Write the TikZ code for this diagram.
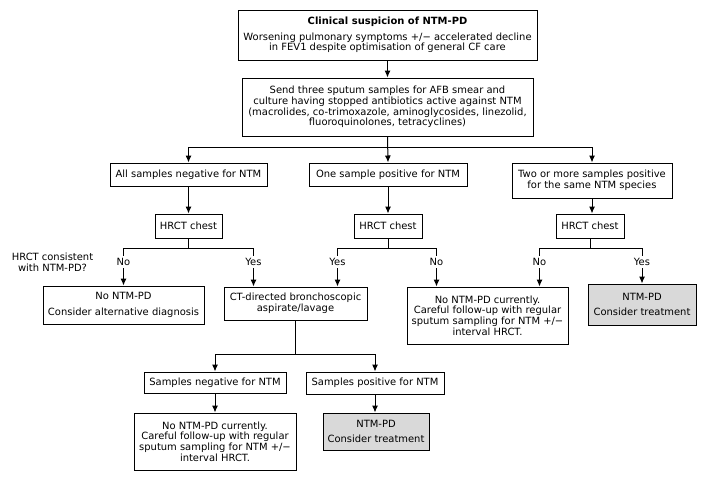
\documentclass[tikz,border=0pt]{standalone}
\usepackage{fontspec}
\setmainfont{DejaVu Sans}
\usetikzlibrary{
  arrows.meta,
  positioning,
  calc
}

\begin{document}
\begin{tikzpicture}[
    x=1pt, y=-1pt,
    every node/.style={font=\fontsize{9.95}{10.6}\selectfont},
    box/.style={
      draw,
      align=center,
      inner sep=2pt,
      line width=1pt
    },
    greybox/.style={box, fill=black!15},
    ar/.style={-{Latex[length=7pt,width=6pt]}, line width=1pt},
    lbl/.style={fill=white, inner sep=2.5pt}
  ]
    \useasboundingbox (0,0) rectangle (706,482);

    % top chain: suspicion -> sputum samples
    \node[box, minimum width=299pt, minimum height=50pt] (susp) at (387.5,35)
      {\textbf{Clinical suspicion of NTM-PD}\\[5pt]Worsening pulmonary symptoms +/− accelerated decline\\in FEV1 despite optimisation of general CF care};
    \node[box, minimum width=291pt, minimum height=58pt] (send) at (387.5,107)
      {Send three sputum samples for AFB smear and\\culture having stopped antibiotics active against NTM\\(macrolides, co-trimoxazole, aminoglycosides, linezolid,\\fluoroquinolones, tetracyclines)};
    \draw[ar] (susp) -- (send);

    % three sputum results
    \node[box, minimum width=157pt, minimum height=23pt] (allneg) at (188.5,174.5) {All samples negative for NTM};
    \node[box, minimum width=158pt, minimum height=23pt] (onepos) at (388,174.5) {One sample positive for NTM};
    \node[box, minimum width=160pt, minimum height=35pt] (twopos) at (592,180.5)
      {Two or more samples positive\\for the same NTM species};

    \draw[ar] (send.south) -- ++(0,11) -| (allneg.north);
    \draw[ar] (send.south) -- (onepos.north);
    \draw[ar] (send.south) -- ++(0,11) -| (twopos.north);

    % HRCT for each branch
    \node[box, minimum width=67pt, minimum height=24pt] (hrcta) at (188.5,226) {HRCT chest};
    \node[box, minimum width=68pt, minimum height=24pt] (hrctb) at (388,226) {HRCT chest};
    \node[box, minimum width=68pt, minimum height=24pt] (hrctc) at (590,226) {HRCT chest};
    \draw[ar] (allneg) -- (hrcta);
    \draw[ar] (onepos) -- (hrctb);
    \draw[ar] (twopos.south) -- (twopos.south |- hrctc.north);

    \node[align=center] (quest) at (52.5,262) {HRCT consistent\\with NTM-PD?};

    % outcomes after HRCT
    \node[box, minimum width=161pt, minimum height=38pt] (nopd) at (123.5,305)
      {No NTM-PD\\[5pt]Consider alternative diagnosis};
    \node[box, minimum width=143pt, minimum height=33pt] (bronch) at (295.5,303.5)
      {CT-directed bronchoscopic\\aspirate/lavage};
    \node[box, minimum width=161pt, minimum height=57pt] (nocura) at (487.5,315.5)
      {No NTM-PD currently.\\Careful follow-up with regular\\sputum sampling for NTM +/−\\interval HRCT.};
    \node[greybox, minimum width=108pt, minimum height=41pt] (treata) at (642,304.5)
      {NTM-PD\\[5pt]Consider treatment};

    \draw[ar] (hrcta.south) -- ++(0,10) -| node[lbl, pos=0.68] {No} (nopd.north);
    \draw[ar] (hrcta.south) -- ++(0,10) -| node[lbl, pos=0.68] {Yes} ([xshift=30pt]bronch.north west);
    \draw[ar] (hrctb.south) -- ++(0,10) -| node[lbl, pos=0.68] {Yes} ([xshift=-30pt]bronch.north east);
    \draw[ar] (hrctb.south) -- ++(0,10) -| node[lbl, pos=0.68] {No} ([xshift=30pt]nocura.north west);
    \draw[ar] (hrctc.south) -- ++(0,10) -| node[lbl, pos=0.68] {No} ([xshift=-29pt]nocura.north east);
    \draw[ar] (hrctc.south) -- ++(0,10) -| node[lbl, pos=0.69] {Yes} (treata.north);

    % lower branch: bronchoscopy results
    \node[box, minimum width=142pt, minimum height=21pt] (sneg) at (215,382.5) {Samples negative for NTM};
    \node[box, minimum width=138pt, minimum height=22pt] (spos) at (375,383) {Samples positive for NTM};
    \draw[ar] (bronch.south) -- ++(0,34) -| (sneg.north);
    \draw[ar] (bronch.south) -- ++(0,34) -| (spos.north);

    \node[box, minimum width=162pt, minimum height=57pt] (nocurb) at (215,441.5)
      {No NTM-PD currently.\\Careful follow-up with regular\\sputum sampling for NTM +/−\\interval HRCT.};
    \node[greybox, minimum width=106pt, minimum height=37pt] (treatb) at (376,431.5)
      {NTM-PD\\[5pt]Consider treatment};
    \draw[ar] (sneg) -- (nocurb);
    \draw[ar] (spos.south) -- (spos.south |- treatb.north);

  \end{tikzpicture}
\end{document}
